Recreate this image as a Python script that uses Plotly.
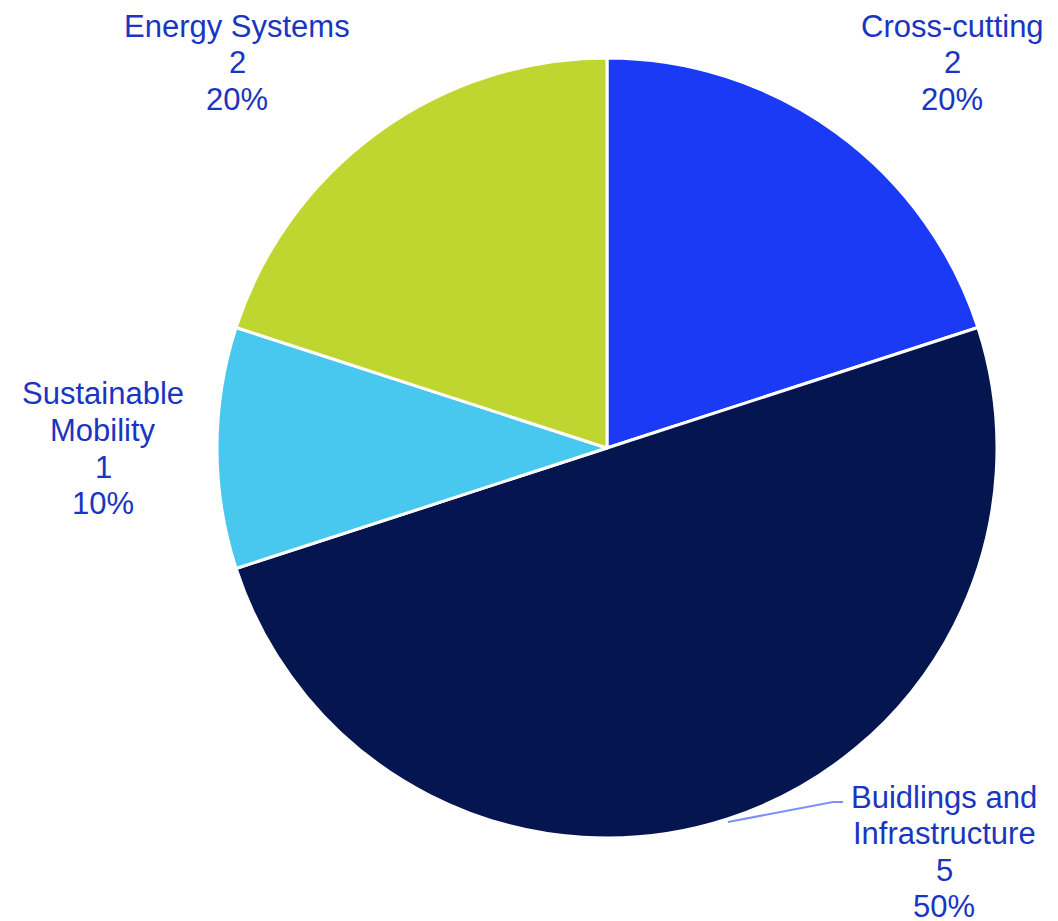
import plotly.graph_objects as go

categories = ["Cross-cutting", "Buidlings and Infrastructure", "Sustainable Mobility", "Energy Systems"]
label_lines = [["Cross-cutting"], ["Buidlings and", "Infrastructure"], ["Sustainable", "Mobility"], ["Energy Systems"]]
values = [2, 5, 1, 2]
colors = ["#1a3af5", "#05154f", "#48c8ee", "#c0d630"]

W, H = 1058, 921
OFF = 8  # page body margin offset
cx, cy, r = 607 - OFF, 448 - OFF, 390

fig = go.Figure(go.Pie(
    labels=categories, values=values, sort=False, direction="clockwise", rotation=0,
    marker=dict(colors=colors, line=dict(color="white", width=3)),
    textinfo="none", hoverinfo="label+value+percent", showlegend=False,
    domain=dict(x=[(cx - r) / W, (cx + r) / W], y=[(H - cy - r) / H, (H - cy + r) / H]),
))

# label block placement (screen pixel centers of first line)
label_pos = [(952, 26), (944, 797), (103, 394), (237, 26)]
spacing = 36.5
total = sum(values)
annotations = []
for lines, v, (x, y0) in zip(label_lines, values, label_pos):
    all_lines = lines + [str(v), f"{round(100 * v / total)}%"]
    for i, t in enumerate(all_lines):
        y = y0 + i * spacing - OFF
        annotations.append(dict(
            text=t, x=(x - OFF) / W, y=1 - y / H, xref="paper", yref="paper",
            xanchor="center", yanchor="middle", showarrow=False,
            font=dict(family="Liberation Sans, Arial, sans-serif", size=31, color="#1a35c0"),
        ))

pts = [(728, 822), (833, 802), (843, 802)]
path = "M " + " L ".join(f"{(px - OFF) / W},{1 - (py - OFF) / H}" for px, py in pts)
fig.add_shape(type="path", xref="paper", yref="paper", path=path,
              line=dict(color="#7b8ff5", width=2))

fig.update_layout(
    width=W, height=H, margin=dict(l=0, r=0, t=0, b=0),
    paper_bgcolor="white", plot_bgcolor="white", annotations=annotations,
)
fig.write_html("out.html")
